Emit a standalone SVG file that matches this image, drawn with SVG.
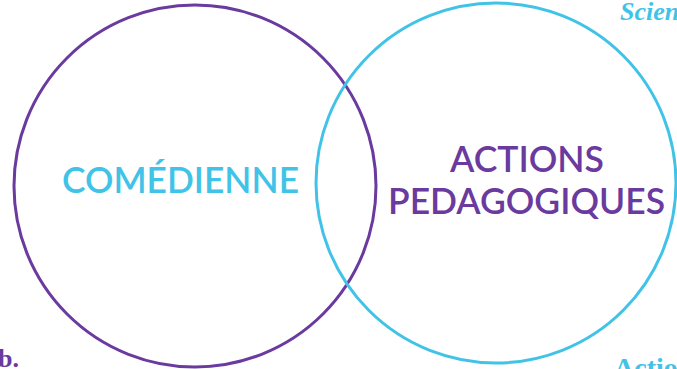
<svg xmlns="http://www.w3.org/2000/svg" width="677" height="369" viewBox="0 0 677 369">
<style>
.c{fill:none;stroke-width:3}
.t{font-family:Lato,"Liberation Sans",sans-serif;font-weight:600;font-size:36px;lengthAdjust:spacingAndGlyphs}
.s{font-family:"Liberation Serif",serif;font-weight:bold}
</style>
<rect width="677" height="369" fill="#fff"/>
<g id="left"><circle class="c" cx="195" cy="186" r="181" stroke="#6A3A9E"/>
<text class="t" x="62" y="193" textLength="237" lengthAdjust="spacingAndGlyphs" fill="#41C3E8">COMÉDIENNE</text></g>
<g id="right"><circle class="c" cx="496" cy="183" r="180" stroke="#41C3E8"/>
<text class="t" x="450" y="172" textLength="154" lengthAdjust="spacingAndGlyphs" fill="#6A3A9E">ACTIONS</text>
<text class="t" x="388" y="214" textLength="277" lengthAdjust="spacingAndGlyphs" fill="#6A3A9E">PEDAGOGIQUES</text></g>
<text class="s" x="620" y="20" font-size="26" font-style="italic" fill="#41C3E8">Scien</text>
<text class="s" x="-2" y="367" font-size="26" fill="#6A3A9E">b.</text>
<text class="s" x="614" y="377" font-size="28" fill="#41C3E8">Actio</text>
</svg>
